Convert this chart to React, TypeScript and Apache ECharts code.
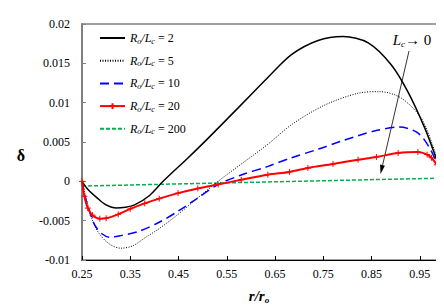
import React, { useEffect, useRef } from "react";
import * as echarts from "echarts";

// Ro/Lc values (legend)
const ratioNames = ["2", "5", "10", "20", "200"];

// x tick labels
const xTicks = [0.25, 0.35, 0.45, 0.55, 0.65, 0.75, 0.85, 0.95];

// series data: [r/ro, delta]
const s2: [number, number][] = [
  [0.25, 0], [0.262, -0.001], [0.283, -0.0022], [0.3, -0.003], [0.321, -0.0034],
  [0.34, -0.0033], [0.359, -0.003], [0.39, -0.0018], [0.418, 0], [0.47, 0.003],
  [0.51, 0.0054], [0.552, 0.008], [0.6, 0.011], [0.635, 0.0132], [0.684, 0.0161],
  [0.739, 0.0179], [0.791, 0.0184], [0.843, 0.0176], [0.891, 0.0148], [0.925, 0.0114],
  [0.96, 0.0068], [0.981, 0.0034], [1.0, 0],
];
const s5: [number, number][] = [
  [0.25, 0], [0.262, -0.003], [0.275, -0.0055], [0.29, -0.007], [0.31, -0.0081],
  [0.331, -0.0085], [0.355, -0.0082], [0.38, -0.0072], [0.41, -0.006], [0.449, -0.0042],
  [0.49, -0.0021], [0.532, 0], [0.58, 0.0022], [0.635, 0.0047], [0.684, 0.0072],
  [0.753, 0.0097], [0.822, 0.0112], [0.867, 0.0114], [0.911, 0.0106], [0.953, 0.008],
  [0.981, 0.0038], [1.0, 0],
];
const s10: [number, number][] = [
  [0.25, 0], [0.259, -0.0025], [0.276, -0.0055], [0.292, -0.0067], [0.307, -0.0071],
  [0.33, -0.0069], [0.366, -0.0064], [0.41, -0.0052], [0.449, -0.0038], [0.49, -0.0021],
  [0.532, -0.0004], [0.58, 0.0008], [0.635, 0.0019], [0.684, 0.003], [0.74, 0.0041],
  [0.787, 0.0051], [0.856, 0.0064], [0.908, 0.0069], [0.947, 0.0061], [0.974, 0.0038],
  [1.0, 0],
];
const s20: [number, number][] = [
  [0.25, 0], [0.255, -0.0019], [0.262, -0.0034], [0.272, -0.0043], [0.287, -0.00475],
  [0.3, -0.0047], [0.325, -0.0042], [0.35, -0.0035], [0.38, -0.0028], [0.41, -0.0022],
  [0.449, -0.0015], [0.49, -0.0009], [0.532, -0.0004], [0.58, 0.0002], [0.635, 0.00085],
  [0.68, 0.0012], [0.718, 0.0017], [0.77, 0.0022], [0.822, 0.00275], [0.86, 0.0031],
  [0.905, 0.0036], [0.946, 0.00372], [0.965, 0.0034], [0.974, 0.003], [0.985, 0.0021],
  [0.991, 0.0013], [1.0, 0],
];
const s200: [number, number][] = [
  [0.25, -0.0006], [0.99, 0.0004], [1.0, 0],
];

const SERIF = "Liberation Serif";
const CROSS = "path://M0,5L10,5M5,0L5,10";
const HIDE = { color: "rgba(0,0,0,0)", borderColor: "rgba(0,0,0,0)", borderWidth: 0 };

export default function App() {
  const ref = useRef<HTMLDivElement>(null);
  useEffect(() => {
    if (!ref.current) return;
    const chart = echarts.init(ref.current, null, { renderer: "svg" });
    const base = { type: "line", smooth: 0.3, symbol: "none", z: 2 };
    chart.setOption({
      animation: false,
      textStyle: { fontFamily: SERIF },
      grid: {
        left: 74, right: 8, top: 16, bottom: 56,
        show: true, borderColor: "#808080", borderWidth: 1.5,
      },
      legend: {
        left: 91, top: 24, orient: "vertical", padding: 0,
        itemWidth: 25, itemHeight: 7, itemGap: 9.7,
        data: ratioNames.map((n) => (n === "20" ? { name: n } : { name: n, itemStyle: HIDE })),
        formatter: (n: string) => `{i|R}{s|o}{i|/L}{s|c}{n| = ${n}}`,
        textStyle: {
          fontFamily: SERIF, fontSize: 12, color: "#000",
          rich: {
            i: { fontFamily: SERIF, fontSize: 12, fontStyle: "italic", lineHeight: 14 },
            s: { fontFamily: SERIF, fontSize: 8, fontStyle: "italic", verticalAlign: "bottom", lineHeight: 8 },
            n: { fontFamily: SERIF, fontSize: 12, lineHeight: 14 },
          },
        },
      },
      xAxis: {
        type: "value", min: 0.25, max: 1.0,
        axisLine: { onZero: false, lineStyle: { color: "#000", width: 1 } },
        axisTick: { inside: true, length: 4, customValues: xTicks, lineStyle: { color: "#000" } },
        axisLabel: {
          customValues: xTicks, margin: 8,
          formatter: (v: number) => v.toFixed(2),
          fontFamily: SERIF, fontSize: 12, color: "#000",
        },
        splitLine: { show: false },
      },
      yAxis: {
        type: "value", min: -0.01, max: 0.02, interval: 0.005,
        axisLine: { show: true, lineStyle: { color: "#808080", width: 2 } },
        axisTick: { show: true, inside: true, length: 4, lineStyle: { color: "#808080" } },
        axisLabel: {
          margin: 12,
          formatter: (v: number) => String(+v.toFixed(3)),
          fontFamily: SERIF, fontSize: 12, color: "#000",
        },
        splitLine: { show: false },
      },
      series: [
        { ...base, name: ratioNames[4], data: s200, smooth: false, lineStyle: { color: "#00B050", width: 1.5, type: [4, 2] }, itemStyle: { color: "#00B050" } },
        { ...base, name: ratioNames[1], data: s5, lineStyle: { color: "#000", width: 1, type: [1, 1.5] }, itemStyle: { color: "#000" } },
        { ...base, name: ratioNames[2], data: s10, lineStyle: { color: "#0000FF", width: 1.5, type: [9, 5] }, itemStyle: { color: "#0000FF" } },
        { ...base, name: ratioNames[0], data: s2, lineStyle: { color: "#000", width: 1.5 }, itemStyle: { color: "#000" } },
        {
          ...base, name: ratioNames[3], data: s20, symbol: CROSS, symbolSize: 6, showSymbol: true,
          lineStyle: { color: "#FF0000", width: 2 },
          itemStyle: { color: "#FF0000", borderColor: "#FF0000", borderWidth: 1 },
        },
      ],
      graphic: [
        { type: "text", x: 13, y: 147, style: { text: "δ", font: `bold 16px ${SERIF}`, fill: "#000", align: "center", verticalAlign: "middle" } },
        {
          type: "text", x: 251, y: 288,
          style: {
            text: "{b|r/r}{bs|o}", align: "center", verticalAlign: "middle",
            rich: {
              b: { font: `bold italic 15px ${SERIF}`, fill: "#000", lineHeight: 16 },
              bs: { font: `bold italic 9px ${SERIF}`, fill: "#000", verticalAlign: "bottom", lineHeight: 9 },
            },
          },
        },
        {
          type: "text", x: 404, y: 32,
          style: {
            text: "{i|L}{s|c}{n|→ 0}", align: "center", verticalAlign: "middle",
            rich: {
              i: { font: `italic 15px ${SERIF}`, fill: "#000", lineHeight: 16 },
              s: { font: `italic 9px ${SERIF}`, fill: "#000", verticalAlign: "bottom", lineHeight: 9 },
              n: { font: `15px ${SERIF}`, fill: "#000", lineHeight: 16 },
            },
          },
        },
        { type: "line", shape: { x1: 401, y1: 43, x2: 374.5, y2: 157.5 }, style: { stroke: "#000", lineWidth: 0.8 } },
        { type: "polygon", shape: { points: [[372.5, 166], [376.9, 157.8], [372.1, 156.6]] }, style: { fill: "#000" } },
      ],
    });
    return () => chart.dispose();
  }, []);
  return <div ref={ref} style={{ width: 444, height: 308 }} />;
}
